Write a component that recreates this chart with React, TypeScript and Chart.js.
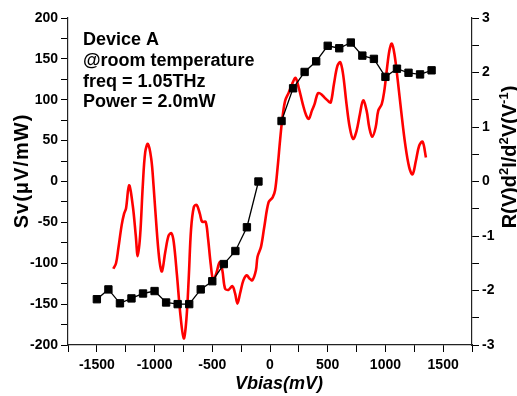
import React, { useEffect, useRef } from "react";
import { Chart, registerables } from "chart.js";

Chart.register(...registerables);

// Responsivity Sv (left axis) versus bias voltage; no reading at 0 mV
const svBias = [
  -1500, -1400, -1300, -1200, -1100, -1000, -900, -800, -700, -600, -500, -400, -300, -200, -100,
  100, 200, 300, 400, 500, 600, 700, 800, 900, 1000, 1100, 1200, 1300, 1400,
];
const svValues = [
  -144, -132, -149, -143, -137, -134, -148, -150, -150, -132, -122, -101, -85, -56, 0,
  74, 114, 134, 147, 166, 163, 170, 154, 150, 128, 138, 133, 131, 136,
];

// R(V) d2I/dV2 (right axis) versus bias voltage
const curveBias = [
  -1357, -1334, -1314, -1285, -1264, -1247, -1221, -1189, -1163, -1146, -1125, -1102, -1081, -1058,
  -1029, -1009, -980, -956, -936, -907, -878, -854, -834, -806, -776, -747, -724, -704, -684, -660,
  -636, -608, -588, -558, -538, -514, -492, -466, -436, -413, -390, -361, -326, -303, -282, -259,
  -230, -201, -178, -152, -122, -108, -78, -50, -12, 23, 44, 66, 87, 105, 131, 162, 192, 221, 249,
  284, 314, 337, 363, 386, 415, 445, 473, 502, 526, 554, 584, 609, 633, 663, 691, 720, 750, 779,
  807, 837, 860, 886, 915, 938, 968, 990, 1011, 1034, 1055, 1078, 1107, 1136, 1171, 1206, 1235,
  1264, 1293, 1322, 1351,
];
const curveValues = [
  -1.6, -1.5, -1.23, -0.8, -0.59, -0.49, -0.07, -0.44, -0.99, -1.37, -0.99, -0.07, 0.54, 0.69,
  0.42, -0.07, -0.93, -1.48, -1.65, -1.29, -0.99, -0.95, -1.11, -1.72, -2.45, -2.88, -2.52, -1.77,
  -0.88, -0.47, -0.43, -0.59, -0.74, -0.74, -1.02, -1.51, -1.81, -1.69, -1.48, -1.63, -1.96, -1.99,
  -1.92, -2.05, -2.24, -2.05, -1.81, -1.72, -1.78, -1.81, -1.63, -1.38, -1.2, -0.84, -0.38, -0.29,
  -0.16, 0.26, 0.75, 1.12, 1.48, 1.63, 1.79, 1.9, 1.72, 1.42, 1.21, 1.15, 1.3, 1.42, 1.62, 1.6,
  1.54, 1.48, 1.45, 1.79, 2.12, 2.19, 1.97, 1.42, 0.99, 0.78, 0.93, 1.24, 1.49, 1.3, 0.99, 0.82,
  0.99, 1.3, 1.42, 1.66, 2.03, 2.4, 2.53, 2.34, 1.85, 1.3, 0.69, 0.26, 0.13, 0.38, 0.66, 0.73, 0.44,
];

const annotationLines = ["Device A", "@room temperature", "freq = 1.05THz", "Power = 2.0mW"];
const xTitle = "Vbias(mV)";
const leftTitle = "Sv(\u03bcV/mW)";
// right title pieces: [text, superscript]
const rightTitle: [string, boolean][] = [
  ["R(V)d", false],
  ["2", true],
  ["I/d", false],
  ["2", true],
  ["V(V", false],
  ["-1", true],
  [")", false],
];

const FONT = '"Liberation Sans", Arial, sans-serif';

const textPlugin = {
  id: "textPlugin",
  afterDraw(chart: Chart) {
    const ctx = chart.ctx as any;
    ctx.save();
    ctx.fillStyle = "#000";
    ctx.textBaseline = "alphabetic";

    // annotation block
    ctx.font = `bold 18px ${FONT}`;
    ctx.textAlign = "left";
    const baselines = [45, 66, 87, 107];
    annotationLines.forEach((t, i) => ctx.fillText(t, 83, baselines[i]));

    // x-axis title
    ctx.font = `italic bold 18px ${FONT}`;
    ctx.textAlign = "center";
    ctx.fillText(xTitle, 279, 389);

    // left axis title
    ctx.save();
    ctx.translate(28, 171);
    ctx.rotate(-Math.PI / 2);
    ctx.font = `bold 20px ${FONT}`;
    ctx.letterSpacing = "1px";
    ctx.textAlign = "center";
    ctx.fillText(leftTitle, 0, 0);
    ctx.restore();

    // right axis title with superscripts
    ctx.save();
    ctx.translate(516, 157);
    ctx.rotate(-Math.PI / 2);
    ctx.textAlign = "left";
    const mainFont = `bold 20px ${FONT}`;
    const supFont = `bold 13px ${FONT}`;
    let total = 0;
    rightTitle.forEach(([t, sup]) => {
      ctx.font = sup ? supFont : mainFont;
      total += ctx.measureText(t).width;
    });
    let x = -total / 2;
    rightTitle.forEach(([t, sup]) => {
      ctx.font = sup ? supFont : mainFont;
      ctx.fillText(t, x, sup ? -8 : 0);
      x += ctx.measureText(t).width;
    });
    ctx.restore();

    ctx.restore();
  },
};

export default function App() {
  const canvasRef = useRef<HTMLCanvasElement | null>(null);

  useEffect(() => {
    const canvas = canvasRef.current;
    if (!canvas) return;
    const tickFont = { family: FONT, size: 14, weight: "bold" as const };
    const axisGrid = { drawOnChartArea: false, tickLength: 7, color: "#000", lineWidth: 1 };
    const axisBorder = { color: "#222", width: 1.2 };

    const chart = new Chart(canvas, {
      type: "line",
      data: {
        datasets: [
          {
            label: "Sv",
            data: svBias.map((b, i) => ({ x: b, y: svValues[i] })),
            yAxisID: "y",
            borderColor: "#000",
            backgroundColor: "#000",
            borderWidth: 1.3,
            pointStyle: "rect",
            pointRadius: 5.2,
            pointBorderWidth: 1,
            pointBackgroundColor: "#000",
            pointBorderColor: "#000",
            tension: 0,
            // the two bias branches are not joined across 0 mV
            segment: {
              borderColor: (c: any) =>
                c.p0.parsed.x < 0 && c.p1.parsed.x > 0 ? "rgba(0,0,0,0)" : "#000",
            },
          },
          {
            label: "R(V)d2I/d2V",
            data: curveBias.map((b, i) => ({ x: b, y: curveValues[i] })),
            yAxisID: "y1",
            borderColor: "#ff0000",
            borderWidth: 2.6,
            pointRadius: 0,
            tension: 0.35,
            fill: false,
          },
        ],
      },
      options: {
        animation: false,
        responsive: false,
        devicePixelRatio: 1,
        layout: { padding: { top: 18, left: 0, right: 0, bottom: 0 } },
        plugins: {
          legend: { display: false },
          tooltip: { enabled: false },
        },
        scales: {
          x: {
            type: "linear",
            position: "bottom",
            min: -1750,
            max: 1750,
            ticks: {
              stepSize: 250,
              autoSkip: false,
              maxRotation: 0,
              padding: 5,
              color: "#000",
              font: tickFont,
              callback: (v: any) => (Number(v) % 500 === 0 ? String(v) : ""),
            },
            grid: axisGrid,
            border: axisBorder,
            afterFit: (s: any) => {
              s.height = 51;
              s.paddingLeft = 0;
              s.paddingRight = 0;
            },
          },
          y: {
            type: "linear",
            position: "left",
            min: -200,
            max: 200,
            ticks: {
              stepSize: 25,
              autoSkip: false,
              padding: 3,
              color: "#000",
              font: tickFont,
              callback: (v: any) => (Number(v) % 50 === 0 ? String(v) : ""),
            },
            grid: axisGrid,
            border: axisBorder,
            afterFit: (s: any) => {
              s.width = 68;
              s.paddingTop = 0;
              s.paddingBottom = 0;
            },
          },
          y1: {
            type: "linear",
            position: "right",
            min: -3,
            max: 3,
            ticks: {
              stepSize: 0.5,
              autoSkip: false,
              padding: 3,
              color: "#000",
              font: tickFont,
              callback: (v: any) => (Number.isInteger(Number(v)) ? String(v) : ""),
            },
            grid: axisGrid,
            border: axisBorder,
            afterFit: (s: any) => {
              s.width = 45;
              s.paddingTop = 0;
              s.paddingBottom = 0;
            },
          },
        },
      },
      plugins: [textPlugin],
    });

    return () => chart.destroy();
  }, []);

  return (
    <div style={{ position: "fixed", left: 0, top: 0, width: 517, height: 396, background: "#fff" }}>
      <canvas ref={canvasRef} width={517} height={396} style={{ display: "block" }} />
    </div>
  );
}
